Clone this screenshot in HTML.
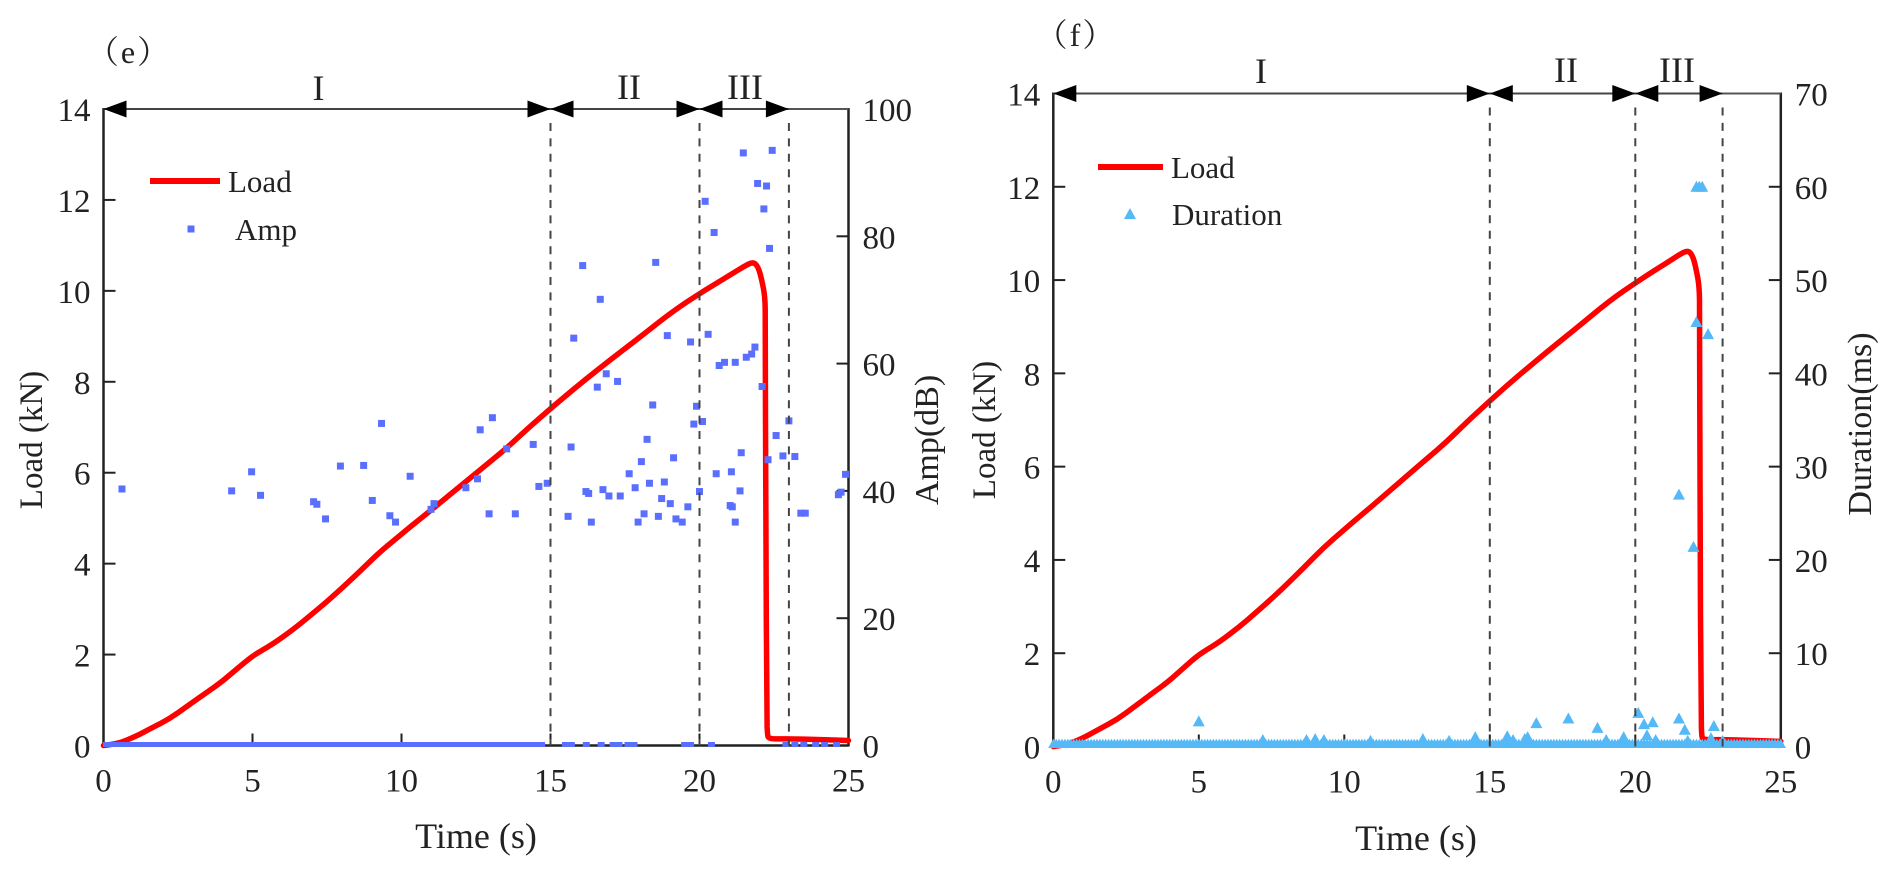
<!DOCTYPE html>
<html>
<head>
<meta charset="utf-8">
<title>Load, Amp and Duration versus Time</title>
<style>
html,body{margin:0;padding:0;background:#fff;width:1894px;height:878px;overflow:hidden}
svg{display:block}
text{font-family:"Liberation Serif","Noto Serif CJK SC",serif;fill:#222}
</style>
</head>
<body>
<svg id="chart" width="1894" height="878" viewBox="0 0 1894 878" xmlns="http://www.w3.org/2000/svg"></svg>
<script>
const loadTimes = [0,0.4,0.8,1.2,1.6,2.2,2.8,3.4,3.93,4.5,5,5.5,5.92,6.5,7.2,7.82,8.6,9.28,10,10.6,11.28,12,12.8,13.53,14.2,15,16,17,18,19.12,20.03,20.5,21.13,21.5,21.8,21.97,22.09,22.2,22.21,22.22,22.26,22.28,22.32,23,24,25];
const loadValues = [0,0.03,0.12,0.24,0.38,0.58,0.86,1.14,1.38,1.7,1.97,2.16,2.34,2.62,3,3.35,3.83,4.26,4.65,4.97,5.33,5.72,6.15,6.54,6.95,7.41,7.96,8.48,8.98,9.56,9.95,10.14,10.39,10.54,10.64,10.53,10.24,9.87,9.3,5,0.6,0.25,0.14,0.15,0.13,0.11];

const ampTimes = [0.62,4.3,4.97,5.27,7.05,7.16,7.45,7.95,8.73,9.02,9.33,9.61,9.8,10.29,10.99,11.09,12.16,12.55,12.64,12.94,13.05,13.53,13.82,14.42,14.61,14.89,15.59,15.69,15.78,16.08,16.19,16.28,16.37,16.57,16.67,16.76,16.87,16.96,17.25,17.34,17.64,17.84,17.94,18.05,18.14,18.24,18.32,18.43,18.53,18.62,18.73,18.82,18.92,19.02,19.13,19.21,19.42,19.61,19.7,19.81,19.9,20,20.1,20.19,20.29,20.49,20.56,20.66,20.84,21.07,21.2,21.36,21.1,21.2,21.03,21.4,21.47,21.57,21.75,21.86,21.95,22.1,22.16,22.25,22.35,22.44,22.3,22.57,22.8,23,23.2,23.4,23.55,24.66,24.75,24.9];
const ampValues = [40.3,40,43,39.3,38.3,37.9,35.6,43.9,44,38.5,50.6,36.1,35.1,42.3,37.1,38,40.5,41.9,49.6,36.4,51.5,46.6,36.4,47.3,40.7,41.2,36,46.9,64,75.4,39.9,39.6,35.1,56.3,70.1,40.2,58.4,39.2,57.2,39.2,42.7,40.5,35.1,44.6,36.4,48.1,41.2,53.5,75.9,36,38.8,41.4,64.4,38,45.2,35.6,35.1,37.5,63.4,50.5,53.3,39.9,50.9,85.5,64.6,80.6,42.7,59.7,60.2,43,60.2,40,37.5,35.1,37.7,46,93.1,61,61.5,62.6,88.3,56.4,84.3,87.9,78.1,93.5,44.9,48.7,45.5,51,45.4,36.5,36.5,39.4,39.8,42.6];
const ampFloorTimes = [0.1,0.3,0.5,0.7,0.9,1.1,1.3,1.5,1.7,1.9,2.1,2.3,2.5,2.7,2.9,3.1,3.3,3.5,3.7,3.9,4.1,4.3,4.5,4.7,4.9,5.1,5.3,5.5,5.7,5.9,6.1,6.3,6.5,6.7,6.9,7.1,7.3,7.5,7.7,7.9,8.1,8.3,8.5,8.7,8.9,9.1,9.3,9.5,9.7,9.9,10.1,10.3,10.5,10.7,10.9,11.1,11.3,11.5,11.7,11.9,12.1,12.3,12.5,12.7,12.9,13.1,13.3,13.5,13.7,13.9,14.1,14.3,14.5,14.7,15.5,15.7,16.2,16.7,17.1,17.3,17.6,17.8,19.5,19.7,20.4,22.9,23.2,23.5,23.9,24.2,24.6];
const ampFloorValues = [0,0,0,0,0,0,0,0,0,0,0,0,0,0,0,0,0,0,0,0,0,0,0,0,0,0,0,0,0,0,0,0,0,0,0,0,0,0,0,0,0,0,0,0,0,0,0,0,0,0,0,0,0,0,0,0,0,0,0,0,0,0,0,0,0,0,0,0,0,0,0,0,0,0,0,0,0,0,0,0,0,0,0,0,0,0,0,0,0,0,0];

const durationTimes = [5,7.2,8.7,9,9.3,10.9,12.7,13.6,14.5,15.6,15.8,16.2,16.3,16.6,17.7,18.7,19,19.6,20.1,20.3,20.6,20.4,20.7,21.5,21.7,21.8,21.5,22,22.1,22.5,22.1,22.2,22.3,22.7,22.6,23];
const durationValues = [2.7,0.7,0.7,0.8,0.7,0.6,0.8,0.6,1,1.1,0.7,0.8,1,2.5,3,2,0.7,1,3.6,2.4,2.6,1.2,0.7,3,1.8,0.6,27,21.4,45.5,44.2,60,60,60,2.2,0.9,0.6];
const durationFloorTimes = [0,0.1,0.2,0.3,0.4,0.5,0.6,0.7,0.8,0.9,1,1.1,1.2,1.3,1.4,1.5,1.6,1.7,1.8,1.9,2,2.1,2.2,2.3,2.4,2.5,2.6,2.7,2.8,2.9,3,3.1,3.2,3.3,3.4,3.5,3.6,3.7,3.8,3.9,4,4.1,4.2,4.3,4.4,4.5,4.6,4.7,4.8,4.9,5,5.1,5.2,5.3,5.4,5.5,5.6,5.7,5.8,5.9,6,6.1,6.2,6.3,6.4,6.5,6.6,6.7,6.8,6.9,7,7.1,7.2,7.3,7.4,7.5,7.6,7.7,7.8,7.9,8,8.1,8.2,8.3,8.4,8.5,8.6,8.7,8.8,8.9,9,9.1,9.2,9.3,9.4,9.5,9.6,9.7,9.8,9.9,10,10.1,10.2,10.3,10.4,10.5,10.6,10.7,10.8,10.9,11,11.1,11.2,11.3,11.4,11.5,11.6,11.7,11.8,11.9,12,12.1,12.2,12.3,12.4,12.5,12.6,12.7,12.8,12.9,13,13.1,13.2,13.3,13.4,13.5,13.6,13.7,13.8,13.9,14,14.1,14.2,14.3,14.4,14.5,14.6,14.7,14.8,14.9,15,15.1,15.2,15.3,15.4,15.5,15.6,15.7,15.8,15.9,16,16.1,16.2,16.3,16.4,16.5,16.6,16.7,16.8,16.9,17,17.1,17.2,17.3,17.4,17.5,17.6,17.7,17.8,17.9,18,18.1,18.2,18.3,18.4,18.5,18.6,18.7,18.8,18.9,19,19.1,19.2,19.3,19.4,19.5,19.6,19.7,19.8,19.9,20,20.1,20.2,20.3,20.4,20.5,20.6,20.7,20.8,20.9,21,21.1,21.2,21.3,21.4,21.5,21.6,21.7,21.8,21.9,22,22.1,22.2,22.3,22.4,22.5,22.6,22.7,22.8,22.9,23,23.1,23.2,23.3,23.4,23.5,23.6,23.7,23.8,23.9,24,24.1,24.2,24.3,24.4,24.5,24.6,24.7,24.8,24.9,25];
const durationFloorValues = [
0.2,0.2,0.2,0.2,0.2,0.2,0.2,0.2,0.2,0.2,0.2,0.2,0.2,0.2,0.2,0.2,0.2,0.2,0.2,0.2,0.2,0.2,0.2,0.2,0.2,
0.2,0.2,0.2,0.2,0.2,0.2,0.2,0.2,0.2,0.2,0.2,0.2,0.2,0.2,0.2,0.2,0.2,0.2,0.2,0.2,0.2,0.2,0.2,0.2,0.2,
0.2,0.2,0.2,0.2,0.2,0.2,0.2,0.2,0.2,0.2,0.2,0.2,0.2,0.2,0.2,0.2,0.2,0.2,0.2,0.2,0.2,0.2,0.2,0.2,0.2,
0.2,0.2,0.2,0.2,0.2,0.2,0.2,0.2,0.2,0.2,0.2,0.2,0.2,0.2,0.2,0.2,0.2,0.2,0.2,0.2,0.2,0.2,0.2,0.2,0.2,
0.2,0.2,0.2,0.2,0.2,0.2,0.2,0.2,0.2,0.2,0.2,0.2,0.2,0.2,0.2,0.2,0.2,0.2,0.2,0.2,0.2,0.2,0.2,0.2,0.2,
0.2,0.2,0.2,0.2,0.2,0.2,0.2,0.2,0.2,0.2,0.2,0.2,0.2,0.2,0.2,0.2,0.2,0.2,0.2,0.2,0.2,0.2,0.2,0.2,0.2,
0.2,0.2,0.2,0.2,0.2,0.2,0.2,0.2,0.2,0.2,0.2,0.2,0.2,0.2,0.2,0.2,0.2,0.2,0.2,0.2,0.2,0.2,0.2,0.2,0.2,
0.2,0.2,0.2,0.2,0.2,0.2,0.2,0.2,0.2,0.2,0.2,0.2,0.2,0.2,0.2,0.2,0.2,0.2,0.2,0.2,0.2,0.2,0.2,0.2,0.2,
0.2,0.2,0.2,0.2,0.2,0.2,0.2,0.2,0.2,0.2,0.2,0.2,0.2,0.2,0.2,0.2,0.2,0.2,0.2,0.2,0.2,0.2,0.2,0.2,0.2,
0.2,0.2,0.2,0.2,0.2,0.2,0.2,0.2,0.2,0.2,0.2,0.2,0.2,0.2,0.2,0.2,0.2,0.2,0.2,0.2,0.2,0.2,0.2,0.2,0.2,
0.2];

const timeTicks = [0,5,10,15,20,25];
const loadTicks = [0,2,4,6,8,10,12,14];
const ampTicks = [0,20,40,60,80,100];
const durationTicks = [0,10,20,30,40,50,60,70];
const stageBounds = [0,15,20,23];
const stageLabels = ['I','II','III'];

const NS = 'http://www.w3.org/2000/svg';
const root = document.getElementById('chart');
const INK = '#222';

function add(tag, attrs, name, parent) {
  const el = document.createElementNS(NS, tag);
  for (const k in attrs) el.setAttribute(k, attrs[k]);
  
  
  (parent || root).appendChild(el);
  return el;
}
function label(str, x, y, size, name, anchor, parent) {
  const el = add('text', {x: x, y: y, 'font-size': size, 'text-anchor': anchor || 'middle'}, name, parent);
  el.textContent = str;
  return el;
}
function vLabel(str, x, y, size, name, parent) {
  const el = add('text', {x: 0, y: 0, 'font-size': size, 'text-anchor': 'middle', transform: 'translate(' + x + ' ' + y + ') rotate(-90)'}, name, parent);
  el.textContent = str;
  return el;
}
function smoothPath(xs, ys) {
  let d = 'M' + xs[0].toFixed(1) + ' ' + ys[0].toFixed(1);
  for (let i = 1; i < xs.length - 1; i++) {
    const mx = (xs[i] + xs[i + 1]) / 2, my = (ys[i] + ys[i + 1]) / 2;
    d += ' Q' + xs[i].toFixed(1) + ' ' + ys[i].toFixed(1) + ' ' + mx.toFixed(1) + ' ' + my.toFixed(1);
  }
  d += ' L' + xs[xs.length - 1].toFixed(1) + ' ' + ys[ys.length - 1].toFixed(1);
  return d;
}

function drawPanel(cfg) {
  const g = add('g', {}, cfg.id + '-panel');
  const sx = t => cfg.x0 + (t / 25) * (cfg.x1 - cfg.x0);
  const syL = v => cfg.y0 + (v / 14) * (cfg.y1 - cfg.y0);
  const syR = v => cfg.y0 + (v / cfg.rightMax) * (cfg.y1 - cfg.y0);

  // frame
  add('line', {x1: cfg.x0, x2: cfg.x0, y1: cfg.y1 - 1, y2: cfg.y0 + 1, stroke: INK, 'stroke-width': 2.5}, 'left-axis-line', g);
  add('line', {x1: cfg.x1, x2: cfg.x1, y1: cfg.y1 - 1, y2: cfg.y0 + 1, stroke: INK, 'stroke-width': 2.5}, 'right-axis-line', g);
  add('line', {x1: cfg.x0, x2: cfg.x1, y1: cfg.y0, y2: cfg.y0, stroke: INK, 'stroke-width': 2.5}, 'bottom-axis-line', g);
  add('line', {x1: cfg.x0, x2: cfg.x1, y1: cfg.y1, y2: cfg.y1, stroke: '#555', 'stroke-width': 2}, 'top-axis-line', g);

  // ticks and tick labels
  loadTicks.forEach(v => {
    if (v > 0 && v < 14) add('line', {x1: cfg.x0, x2: cfg.x0 + 12, y1: syL(v), y2: syL(v), stroke: INK, 'stroke-width': 2}, 'left-tick', g);
    label(String(v), cfg.x0 - 13, syL(v) + 12, 33, 'left-tick-label', 'end', g);
  });
  cfg.rightTicks.forEach(v => {
    if (v > 0 && v < cfg.rightMax) add('line', {x1: cfg.x1, x2: cfg.x1 - 12, y1: syR(v), y2: syR(v), stroke: INK, 'stroke-width': 2}, 'right-tick', g);
    label(String(v), cfg.x1 + 14, syR(v) + 12, 33, 'right-tick-label', 'start', g);
  });
  timeTicks.forEach(v => {
    if (v > 0 && v < 25) add('line', {x1: sx(v), x2: sx(v), y1: cfg.y0, y2: cfg.y0 - 12, stroke: INK, 'stroke-width': 2}, 'x-tick', g);
    label(String(v), sx(v), cfg.y0 + 46, 33, 'x-tick-label', 'middle', g);
  });

  // load curve
  const d = smoothPath(loadTimes.map(sx), loadValues.map(syL));
  add('path', {d: d, fill: 'none', stroke: '#ff0000', 'stroke-width': 5.5, 'stroke-linejoin': 'round', 'stroke-linecap': 'round'}, 'load-curve', g);

  // scatter
  const clip = add('clipPath', {id: cfg.id + '-clip'}, 'plot-clip', g);
  add('rect', {x: 0, y: 0, width: 1894, height: cfg.y0 + 1.5}, 'plot-clip-area', clip);
  const marks = add('g', {fill: cfg.color, 'clip-path': 'url(#' + cfg.id + '-clip)'}, cfg.seriesName + '-series', g);
  function mark(t, v) {
    const x = sx(t), y = syR(v);
    if (cfg.marker === 'square') {
      add('rect', {x: x - 3.5, y: y - 3.5, width: 7, height: 7}, cfg.seriesName + '-point', marks);
    } else {
      add('polygon', {points: (x - 6) + ',' + (y + 5) + ' ' + (x + 6) + ',' + (y + 5) + ' ' + x + ',' + (y - 6)}, cfg.seriesName + '-point', marks);
    }
  }
  cfg.floorTimes.forEach((t, i) => mark(t, cfg.floorValues[i]));
  cfg.times.forEach((t, i) => mark(t, cfg.values[i]));

  // stage boundaries
  stageBounds.slice(1).forEach(b => {
    add('line', {x1: sx(b), x2: sx(b), y1: cfg.y1 + 14, y2: cfg.y0, stroke: '#444', 'stroke-width': 2, 'stroke-dasharray': '8 7.4'}, 'stage-boundary-' + b + 's', g);
  });

  // axis titles
  label('Time (s)', cfg.titleX, cfg.titleY, 36, 'x-axis-title', 'middle', g);
  vLabel('Load (kN)', cfg.leftTitleX, cfg.leftTitleY, 33, 'left-axis-title', g);
  vLabel(cfg.rightTitle, cfg.rightTitleX, cfg.rightTitleY, 34, 'right-axis-title', g);

  // stage arrows
  const ay = cfg.y1;
  for (let i = 0; i < stageBounds.length - 1; i++) {
    const a = sx(stageBounds[i]), b = sx(stageBounds[i + 1]);
    add('line', {x1: a, x2: b, y1: ay, y2: ay, stroke: '#444', 'stroke-width': 2}, 'stage-arrow-shaft', g);
    add('polygon', {points: a + ',' + ay + ' ' + (a + 23) + ',' + (ay - 8.5) + ' ' + (a + 23) + ',' + (ay + 8.5), fill: '#000'}, 'stage-arrow-head-left', g);
    add('polygon', {points: b + ',' + ay + ' ' + (b - 23) + ',' + (ay - 8.5) + ' ' + (b - 23) + ',' + (ay + 8.5), fill: '#000'}, 'stage-arrow-head-right', g);
    label(stageLabels[i], cfg.stageX[i], cfg.stageY[i], 36, 'stage-label-' + stageLabels[i], 'middle', g);
  }

  // panel tag
  const tag = label(cfg.tag, cfg.tagX, cfg.tagY, 32, 'panel-label', 'middle', g);
  tag.setAttribute('letter-spacing', '2');

  // legend
  const lg = add('g', {}, 'legend', g);
  add('rect', {x: cfg.legendX0, y: cfg.legendY1 - 3, width: cfg.legendX1 - cfg.legendX0, height: 6, fill: '#ff0000'}, 'legend-load-line', lg);
  label('Load', cfg.legendX1 + 8, cfg.legendY1 + 11, 31, 'legend-load-text', 'start', lg);
  const mx = cfg.legendMarkX, my = cfg.legendY2;
  if (cfg.marker === 'square') {
    add('rect', {x: mx - 3.5, y: my - 3.5, width: 7, height: 7, fill: cfg.color}, 'legend-amp-marker', lg);
  } else {
    add('polygon', {points: (mx - 6) + ',' + (my + 5) + ' ' + (mx + 6) + ',' + (my + 5) + ' ' + mx + ',' + (my - 6), fill: cfg.color}, 'legend-duration-marker', lg);
  }
  label(cfg.seriesLabel, cfg.legendTextX, my + 11, 31, 'legend-series-text', 'start', lg);
}

drawPanel({
  id: 'amp', x0: 103.5, x1: 848.5, y0: 745.5, y1: 109,
  rightMax: 100, rightTicks: ampTicks, color: '#5b6fff', marker: 'square', seriesName: 'amp',
  times: ampTimes, values: ampValues, floorTimes: ampFloorTimes, floorValues: ampFloorValues,
  titleX: 476, titleY: 848, leftTitleX: 42, leftTitleY: 440,
  rightTitle: 'Amp(dB)', rightTitleX: 938, rightTitleY: 440,
  stageX: [318.5, 629, 745], stageY: [100, 99, 99],
  tag: '（e）', tagX: 129, tagY: 63,
  legendX0: 150, legendX1: 220, legendY1: 181, legendY2: 229, legendMarkX: 191, legendTextX: 235, seriesLabel: 'Amp'
});

drawPanel({
  id: 'duration', x0: 1053.3, x1: 1780.8, y0: 746.5, y1: 93.5,
  rightMax: 70, rightTicks: durationTicks, color: '#55b9f7', marker: 'triangle', seriesName: 'duration',
  times: durationTimes, values: durationValues, floorTimes: durationFloorTimes, floorValues: durationFloorValues,
  titleX: 1416, titleY: 850, leftTitleX: 995, leftTitleY: 430,
  rightTitle: 'Duration(ms)', rightTitleX: 1871, rightTitleY: 424,
  stageX: [1261, 1566, 1677], stageY: [83, 82, 82],
  tag: '（f）', tagX: 1076, tagY: 46,
  legendX0: 1098, legendX1: 1163, legendY1: 167, legendY2: 214, legendMarkX: 1130, legendTextX: 1172, seriesLabel: 'Duration'
});
</script>
</body>
</html>
